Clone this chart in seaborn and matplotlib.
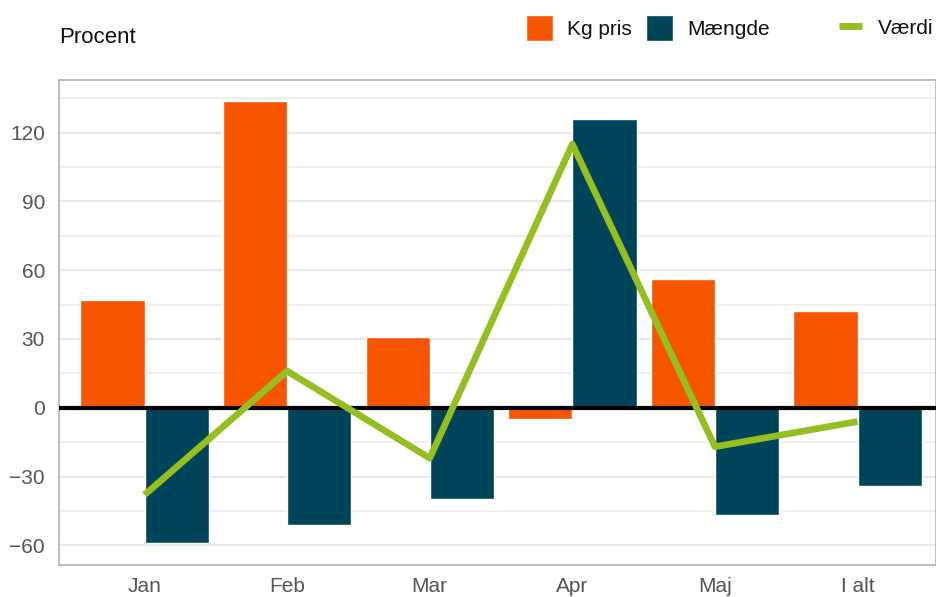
import numpy as np
import pandas as pd
import matplotlib
matplotlib.use("Agg")
import matplotlib.pyplot as plt
import seaborn as sns
from matplotlib.patches import Patch
from matplotlib.lines import Line2D
from matplotlib.ticker import MultipleLocator

# ── data ───────────────────────────────────────────────────────────
months = ['Jan', 'Feb', 'Mar', 'Apr', 'Maj', 'I alt']
kg_pris = [47, 134, 31, -5, 56, 42]
maengde = [-59, -51, -40, 126, -47, -34]
vaerdi = [-38, 16, -22, 115, -17, -6]

ORANGE = '#f75500'
NAVY = '#00445a'
GREEN = '#95be21'

df = pd.DataFrame({
    'month': months * 2,
    'serie': ['Kg pris'] * len(months) + ['Mængde'] * len(months),
    'value': kg_pris + maengde,
})

# ── setup ──────────────────────────────────────────────────────────
sns.set_theme(style='white')
plt.rcParams['font.family'] = ['Liberation Sans', 'DejaVu Sans']

fig, ax = plt.subplots(figsize=(9.36, 5.97), dpi=100)
fig.subplots_adjust(left=0.063, right=1.0, top=0.866, bottom=0.054)

sns.barplot(data=df, x='month', y='value', hue='serie',
            palette=[ORANGE, NAVY], width=0.9, gap=0,
            saturation=1, ax=ax, legend=False, zorder=2)

ax.plot(range(len(months)), vaerdi, color=GREEN, linewidth=4.8,
        solid_capstyle='butt', zorder=4)

ax.axhline(0, color='black', linewidth=3, zorder=3)

ax.set_xlim(-0.6, 5.55)
ax.set_ylim(-68.5, 143)
ax.yaxis.set_major_locator(MultipleLocator(30))
ax.yaxis.set_minor_locator(MultipleLocator(15))
ax.grid(axis='y', which='major', color='#e8e8e8', linewidth=1.6, zorder=0)
ax.grid(axis='y', which='minor', color='#eeeeee', linewidth=1.2, zorder=0)
ax.set_axisbelow(True)

ax.set_yticks([-60, -30, 0, 30, 60, 90, 120])
ax.set_yticklabels(['\u221260', '\u221230', '0', '30', '60', '90', '120'])
ax.tick_params(axis='y', labelsize=15, colors='#555555', length=0, pad=10)
ax.tick_params(axis='x', labelsize=15, colors='#555555', length=0, pad=9)
ax.set_xlabel('')
ax.set_ylabel('')

for side in ['top', 'left', 'bottom', 'right']:
    ax.spines[side].set_color('#b4b4b4')
    ax.spines[side].set_linewidth(1.2)

fig.text(0.063, 0.937, 'Procent', fontsize=16, color='#111111',
         ha='left', va='center')

# ── legends ────────────────────────────────────────────────────────
bar_handles = [Patch(facecolor=ORANGE, label='Kg pris'),
               Patch(facecolor=NAVY, label='Mængde')]
leg1 = fig.legend(handles=bar_handles, loc='center left',
                  bbox_to_anchor=(0.562, 0.953), ncol=2, frameon=False,
                  fontsize=15, handlelength=1.3, handleheight=1.6,
                  handletextpad=0.67, columnspacing=0.67, borderpad=0,
                  borderaxespad=0)
line_handle = [Line2D([0], [0], color=GREEN, linewidth=5,
                      solid_capstyle='butt', label='Værdi')]
leg2 = fig.legend(handles=line_handle, loc='center left',
                  bbox_to_anchor=(0.896, 0.953), frameon=False,
                  fontsize=15, handlelength=1.1, handletextpad=0.77,
                  borderpad=0, borderaxespad=0)
for leg in (leg1, leg2):
    for t in leg.get_texts():
        t.set_color('#111111')

fig.savefig('out.png', dpi=100)
